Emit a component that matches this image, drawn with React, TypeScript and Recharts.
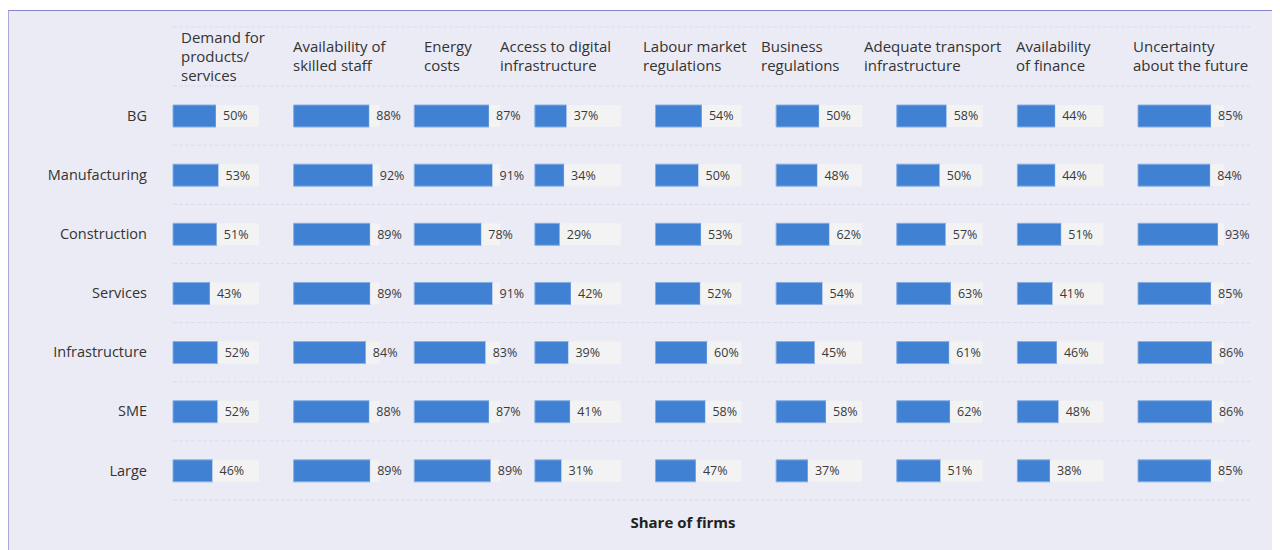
import { BarChart, Bar, XAxis, YAxis, CartesianGrid, LabelList } from "recharts";

const GROUPS = ["BG", "Manufacturing", "Construction", "Services", "Infrastructure", "SME", "Large"];

const FACTORS = [
	"Demand for\nproducts/\nservices",
	"Availability of\nskilled staff",
	"Energy\ncosts",
	"Access to digital\ninfrastructure",
	"Labour market\nregulations",
	"Business\nregulations",
	"Adequate transport\ninfrastructure",
	"Availability\nof finance",
	"Uncertainty\nabout the future",
];

const demand = [50, 53, 51, 43, 52, 52, 46];
const skilledStaff = [88, 92, 89, 89, 84, 88, 89];
const energy = [87, 91, 78, 91, 83, 87, 89];
const digital = [37, 34, 29, 42, 39, 41, 31];
const labourReg = [54, 50, 53, 52, 60, 58, 47];
const businessReg = [50, 48, 62, 54, 45, 58, 37];
const transport = [58, 50, 57, 63, 61, 62, 51];
const finance = [44, 44, 51, 41, 46, 48, 38];
const uncertainty = [85, 84, 93, 85, 86, 86, 85];

const SERIES = [demand, skilledStaff, energy, digital, labourReg, businessReg, transport, finance, uncertainty];

// layout (px)
const HEADER_X = [181, 293, 424, 500, 643, 761, 864, 1016, 1133];
const CHART_W = 1272;
const CHART_H = 520;
const Y_AXIS_W = 165;
const MARGIN = { top: 78, right: 30, bottom: 28, left: 0 };
const PLOT_W = CHART_W - Y_AXIS_W - MARGIN.left - MARGIN.right;
const TRACK_PX = 86;
const STEP_PX = 120.625;
const UNIT = TRACK_PX / 100;

const BLUE = "#4181d3";
const TRACK = "#f3f3f4";
const FONT = "'Open Sans', 'Noto Sans', sans-serif";

const rows = GROUPS.map((group, i) => {
	const row: Record<string, string | number> = { group };
	SERIES.forEach((s, k) => {
		row[`v${k}`] = s[i];
		row[`r${k}`] = 100 - s[i];
	});
	return row;
});

export default function App() {
	return (
		<div style={{ position: "relative", width: CHART_W, height: 542, fontFamily: FONT }}>
			<div
				style={{
					position: "absolute",
					left: -1,
					top: 2,
					width: CHART_W + 1,
					height: 545,
					background: "#ebebf5",
					borderTop: "1px solid #8585c8",
					borderLeft: "2px solid #a9a9dc",
				}}
			/>
			<div style={{ position: "absolute", left: 0, top: 0 }}>
				<BarChart
					width={CHART_W}
					height={CHART_H}
					data={rows}
					layout="vertical"
					margin={MARGIN}
					barSize={22}
				>
					<CartesianGrid
						xAxisId={0}
						yAxisId={0}
						vertical={false}
						stroke="#dcdce8"
						strokeDasharray="4 2"
						horizontalCoordinatesGenerator={({ offset }: any) => {
							const band = offset.height / GROUPS.length;
							return Array.from({ length: GROUPS.length + 2 }, (_, i) => offset.top + (i - 1) * band);
						}}
					/>
					{SERIES.map((_, k) => (
						<XAxis
							key={`x${k}`}
							xAxisId={k}
							type="number"
							hide
							domain={[-(k * STEP_PX) / UNIT, (PLOT_W - k * STEP_PX) / UNIT]}
						/>
					))}
					{SERIES.map((_, k) => (
						<YAxis
							key={`y${k}`}
							yAxisId={k}
							type="category"
							dataKey="group"
							hide={k !== 0}
							width={Y_AXIS_W}
							axisLine={false}
							tickLine={false}
							tickSize={0}
							tickMargin={26}
							tick={{ fill: "#333", fontSize: 14.5, fontFamily: FONT }}
						/>
					))}
					{SERIES.flatMap((_, k) => [
						<Bar
							key={`v${k}`}
							dataKey={`v${k}`}
							xAxisId={k}
							yAxisId={k}
							stackId={`s${k}`}
							fill={BLUE}
							stroke="#86aee4"
							strokeWidth={1}
							isAnimationActive={false}
						/>,
						<Bar
							key={`r${k}`}
							dataKey={`r${k}`}
							xAxisId={k}
							yAxisId={k}
							stackId={`s${k}`}
							fill={TRACK}
							isAnimationActive={false}
						>
							<LabelList
								dataKey={`v${k}`}
								position="insideLeft"
								offset={7}
								formatter={(v: any) => `${v}%`}
								style={{ fill: "#3a3a3a", fontSize: 12.5, fontFamily: FONT }}
							/>
						</Bar>,
					])}
				</BarChart>
			</div>
			{FACTORS.map((f, k) => (
				<div
					key={f}
					style={{
						position: "absolute",
						left: HEADER_X[k] - 8,
						top: 18,
						height: 60,
						display: "flex",
						alignItems: "center",
						whiteSpace: "pre-line",
						fontSize: 15,
						lineHeight: "19px",
						color: "#333",
					}}
				>
					{f}
				</div>
			))}
			<div
				style={{
					position: "absolute",
					left: 575,
					width: 200,
					top: 504,
					lineHeight: "20px",
					textAlign: "center",
					fontWeight: 700,
					fontSize: 15,
					color: "#222",
				}}
			>
				Share of firms
			</div>
		</div>
	);
}
